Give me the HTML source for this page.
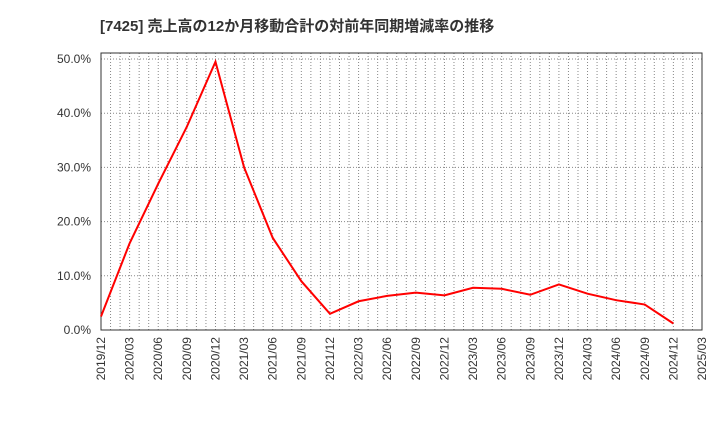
<!DOCTYPE html>
<html><head><meta charset="utf-8"><style>
body{margin:0;background:#fff;font-family:"Liberation Sans","Noto Sans CJK JP",sans-serif;}
</style></head><body>
<svg id="c" width="720" height="440" xmlns="http://www.w3.org/2000/svg">
<text x="100" y="31" font-size="15" font-weight="bold" fill="#333">[7425]  売上高の12か月移動合計の対前年同期増減率の推移</text>
</svg>
<script>
const categories=["2019/12","2020/03","2020/06","2020/09","2020/12","2021/03","2021/06","2021/09","2021/12","2022/03","2022/06","2022/09","2022/12","2023/03","2023/06","2023/09","2023/12","2024/03","2024/06","2024/09","2024/12","2025/03"];
const values=[2.5,16,27,37.5,49.5,30,17,9,3,5.3,6.3,6.9,6.4,7.8,7.6,6.5,8.4,6.7,5.5,4.7,1.2];
const yTicks=[0,10,20,30,40,50];
const yTickLabels=["0.0%","10.0%","20.0%","30.0%","40.0%","50.0%"];
const svg=document.getElementById('c');
const NS="http://www.w3.org/2000/svg";
const L=101,R=702,T=53,B=330;
const x=i=>L+(R-L)*i/(categories.length-1);
const y=v=>B-(B-59)*v/50;
function mk(t,a){const e=document.createElementNS(NS,t);for(const k in a)e.setAttribute(k,a[k]);svg.appendChild(e);return e;}
const months=(categories.length-1)*3;
for(let m=1;m<months;m++){const xx=L+(R-L)*m/months;
const g=mk('line',{x1:xx,x2:xx,y1:T,y2:B,stroke:'#888','stroke-dasharray':'1,2','stroke-width':1});

}
yTicks.forEach((v,i)=>{const yy=y(v);
if(v>0){const g=mk('line',{x1:L,x2:R,y1:yy,y2:yy,stroke:'#888','stroke-dasharray':'1,2'});

}
const t=mk('text',{x:91,y:yy+4,'font-size':12,fill:'#333','text-anchor':'end'});t.textContent=yTickLabels[i];

});
categories.forEach((c,i)=>{const xx=x(i);
const t=mk('text',{x:0,y:0,'font-size':12,fill:'#333','text-anchor':'end',transform:`translate(${xx+4},337) rotate(-90)`});t.textContent=c;

});
const f=mk('rect',{x:L,y:T,width:R-L,height:B-T,fill:'none',stroke:'#333','stroke-width':1});


const pl=mk('polyline',{points:values.map((v,i)=>x(i)+','+y(v)).join(' '),fill:'none',stroke:'#f00','stroke-width':2});


</script>
</body></html>
